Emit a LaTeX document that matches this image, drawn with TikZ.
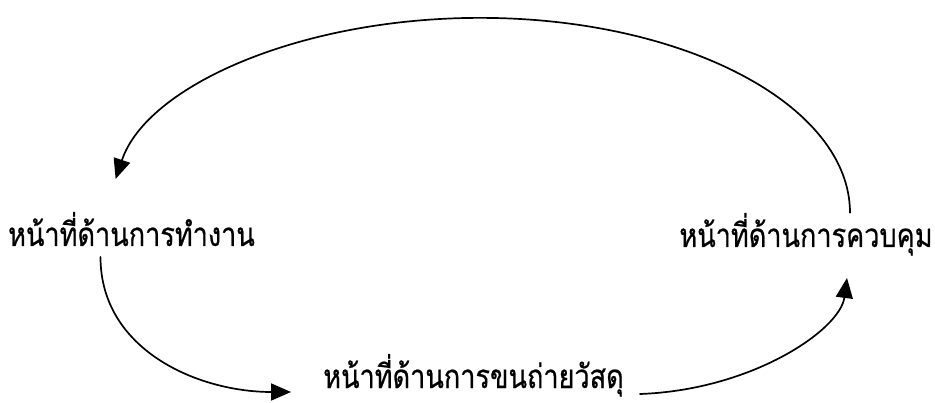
\documentclass[tikz,border=0pt]{standalone}
\usepackage{fontspec}
\newfontfamily\thaifont[Script=Thai,FakeBold=0.6,FakeStretch=0.82]{Loma}
\usepackage{tikz}
\usetikzlibrary{arrows.meta,calc}

\begin{document}
\begin{tikzpicture}[x=1pt,y=1pt,line cap=round,line join=round,
  func/.style={font=\thaifont\fontsize{33}{38}\selectfont,inner sep=0pt,anchor=base},
  arr/.style={-{Triangle[length=20pt,width=17pt]},line width=1.7pt,black}]
\path[use as bounding box] (0,0) rectangle (935,402);
\fill[white] (0,0) rectangle (935,402);
\node[func] (work) at (131.5,156) {หน้าที่ด้านการทำงาน};
\node[func] (ctrl) at (806,155) {หน้าที่ด้านการควบคุม};
\node[func] (move) at (473.5,14) {หน้าที่ด้านการขนถ่ายวัสดุ};
% วงจรของหน้าที่ทั้งสาม
\draw[arr] ([xshift=44pt]ctrl.north) arc[start angle=0,end angle=170,x radius=370,y radius=195];
\draw[arr] ([shift={(-31pt,-11pt)}]work.base) .. controls +(0,-93) and +(-93,0) .. ([shift={(-32pt,-4pt)}]move.base west);
\draw[arr] ([shift={(16pt,-6pt)}]move.base east) .. controls +(112,4) and +(-7,-52) .. ([shift={(41pt,-31pt)}]ctrl.base);
\end{tikzpicture}
\end{document}
